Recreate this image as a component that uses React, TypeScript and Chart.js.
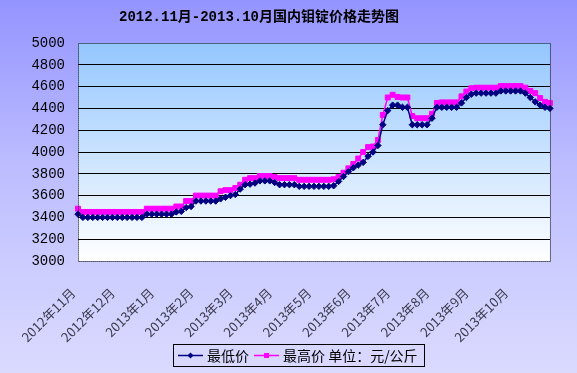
import { useEffect, useRef } from 'react';
import { Chart, registerables } from 'chart.js';

Chart.register(...registerables);

const titleText = '2012.11月-2013.10月国内钼锭价格走势图';
const months = [
  '2012年11月', '2012年12月', '2013年1月', '2013年2月', '2013年3月', '2013年4月',
  '2013年5月', '2013年6月', '2013年7月', '2013年8月', '2013年9月', '2013年10月',
];
const samplesPerMonth = 8;
const yMin = 3000;
const yMax = 5000;
const yStep = 200;
const lowLabel = '最低价';
const highLabel = '最高价';
const unitNote = '单位：元/公斤';

const lowPrices = [
  3430,
  3400, 3400, 3400, 3400, 3400, 3400, 3400, 3400, 3400, 3400, 3400, 3400, 3400,
  3430, 3430, 3430, 3430, 3430, 3430,
  3450, 3455, 3490, 3500,
  3550, 3550, 3550, 3550, 3550,
  3570, 3585, 3600, 3610, 3660, 3700, 3705, 3715,
  3735, 3735, 3735, 3720,
  3700, 3700, 3700, 3700,
  3685, 3685, 3685, 3685, 3685, 3685, 3685,
  3690, 3730, 3775, 3820, 3855, 3880, 3905, 3960, 4000,
  4060, 4250, 4380, 4430, 4430, 4410, 4410,
  4250, 4250, 4250, 4250,
  4310, 4410, 4410, 4410, 4410, 4410,
  4450, 4500, 4530,
  4540, 4540, 4540, 4540, 4540,
  4560, 4560, 4560, 4560, 4560,
  4540, 4500, 4460, 4430, 4410, 4400,
];

const highPrices = [
  3480,
  3450, 3450, 3450, 3450, 3450, 3450, 3450, 3450, 3450, 3450, 3450, 3450, 3450,
  3480, 3480, 3480, 3480, 3480, 3480,
  3500, 3500, 3550, 3550,
  3600, 3600, 3600, 3600, 3600,
  3640, 3650, 3650, 3670, 3700, 3745, 3760, 3760,
  3780, 3780, 3780, 3770,
  3760, 3760, 3760, 3760,
  3745, 3745, 3745, 3745, 3745, 3745, 3745,
  3750, 3770, 3810, 3850, 3890, 3940, 4000, 4045, 4050,
  4110, 4340, 4500, 4525, 4505, 4500, 4500,
  4330, 4310, 4310, 4310,
  4350, 4450, 4455, 4455, 4455, 4455,
  4510, 4555, 4585,
  4590, 4590, 4590, 4590, 4590,
  4605, 4605, 4605, 4605, 4605,
  4590, 4560, 4540, 4495, 4460, 4450,
];

const lowColor = '#000080';
const highColor = '#FF00FF';

const W = 577;
const H = 373;
const PLOT_LEFT = 78;
const PLOT_RIGHT = 553;
const PLOT_TOP = 43;
const PLOT_BOTTOM = 261;

function marker(ctx: CanvasRenderingContext2D, style: string, x: number, y: number, r: number) {
  ctx.beginPath();
  if (style === 'rect') {
    ctx.rect(x - r, y - r, 2 * r, 2 * r);
  } else {
    ctx.moveTo(x, y - r);
    ctx.lineTo(x + r, y);
    ctx.lineTo(x, y + r);
    ctx.lineTo(x - r, y);
    ctx.closePath();
  }
  ctx.fill();
}

const decorPlugin = {
  id: 'decor',
  beforeDraw(chart: any) {
    const { ctx, chartArea } = chart;
    ctx.save();
    const bg = ctx.createLinearGradient(0, 0, 0, H);
    bg.addColorStop(0, '#9494FF');
    bg.addColorStop(0.45, '#BDBDFF');
    bg.addColorStop(0.75, '#CECEFF');
    bg.addColorStop(1, '#DADAFF');
    ctx.fillStyle = bg;
    ctx.fillRect(0, 0, W, H);
    const pg = ctx.createLinearGradient(0, chartArea.top, 0, chartArea.bottom);
    pg.addColorStop(0, '#94C6FF');
    pg.addColorStop(1, '#FFFFFF');
    ctx.fillStyle = pg;
    ctx.fillRect(chartArea.left, chartArea.top, chartArea.right - chartArea.left, chartArea.bottom - chartArea.top);
    ctx.restore();
  },
  afterDatasetsDraw(chart: any) {
    const { ctx, chartArea } = chart;
    ctx.save();
    ctx.strokeStyle = '#000';
    ctx.lineWidth = 1;
    ctx.setLineDash([1, 1]);
    ctx.strokeRect(chartArea.left + 0.5, chartArea.top + 0.5, chartArea.right - chartArea.left, chartArea.bottom - chartArea.top);
    ctx.setLineDash([]);
    ctx.restore();
  },
  afterDraw(chart: any) {
    const { ctx } = chart;
    ctx.save();
    ctx.fillStyle = '#000';
    ctx.font = 'bold 14px "Liberation Mono", "Noto Sans CJK SC"';
    ctx.textAlign = 'center';
    ctx.textBaseline = 'middle';
    ctx.fillText(titleText, 259, 17);

    const boxX = 173.5, boxY = 344.5, boxW = 251, boxH = 22;
    ctx.strokeStyle = '#000';
    ctx.lineWidth = 1;
    ctx.strokeRect(boxX, boxY, boxW, boxH);
    const cy = boxY + boxH / 2;
    ctx.font = '14px "Noto Sans CJK SC"';
    ctx.textAlign = 'left';
    ctx.textBaseline = 'middle';
    const items = [
      { label: chart.data.datasets[0].label, color: lowColor, style: 'rectRot', x0: 178, r: 3 },
      { label: chart.data.datasets[1].label + ' ' + unitNote, color: highColor, style: 'rect', x0: 254, r: 2.5 },
    ];
    for (const it of items) {
      ctx.strokeStyle = it.color;
      ctx.lineWidth = 1.5;
      ctx.beginPath();
      ctx.moveTo(it.x0, cy);
      ctx.lineTo(it.x0 + 25, cy);
      ctx.stroke();
      ctx.fillStyle = it.color;
      marker(ctx, it.style, it.x0 + 12.5, cy, it.r);
      ctx.fillStyle = '#000';
      ctx.fillText(it.label, it.x0 + 29, cy + 0.5);
    }
    ctx.restore();
  },
};

export default function App() {
  const ref = useRef<HTMLCanvasElement | null>(null);

  useEffect(() => {
    if (!ref.current) return;
    const total = months.length * samplesPerMonth;
    const labels = lowPrices.map((_, i) => months[Math.floor(i / samplesPerMonth)] ?? '2013年11月');
    const chart = new Chart(ref.current, {
      type: 'line',
      data: {
        labels,
        datasets: [
          {
            label: lowLabel,
            data: lowPrices,
            borderColor: lowColor,
            backgroundColor: lowColor,
            borderWidth: 1.5,
            pointStyle: 'rectRot',
            pointRadius: 3.2,
            pointBorderWidth: 1,
            tension: 0,
          },
          {
            label: highLabel,
            data: highPrices,
            borderColor: highColor,
            backgroundColor: highColor,
            borderWidth: 1.5,
            pointStyle: 'rect',
            pointRadius: 3.5,
            pointBorderWidth: 1,
            tension: 0,
          },
        ],
      },
      options: {
        responsive: false,
        animation: false,
        layout: { padding: { left: 0, top: PLOT_TOP, right: W - PLOT_RIGHT, bottom: 0 } },
        plugins: {
          legend: { display: false },
          title: { display: false },
          tooltip: { enabled: false },
        },
        scales: {
          x: {
            type: 'category',
            offset: false,
            grid: { display: false },
            border: { display: false },
            afterFit(scale: any) {
              scale.height = H - PLOT_BOTTOM;
            },
            ticks: {
              autoSkip: false,
              minRotation: 45,
              maxRotation: 45,
              padding: 16,
              labelOffset: -5,
              color: '#3a3a4a',
              font: { family: '"Noto Sans CJK SC"', size: 13 },
              callback: (_v: any, i: number) =>
                i % samplesPerMonth === 0 && i < total ? months[i / samplesPerMonth] : '',
            },
          },
          y: {
            min: yMin,
            max: yMax,
            border: { display: false },
            afterFit(scale: any) {
              scale.width = PLOT_LEFT;
            },
            grid: {
              drawTicks: false,
              lineWidth: 1,
              color: (c: any) =>
                c.tick && (c.tick.value === yMin || c.tick.value === yMax) ? 'rgba(0,0,0,0)' : '#000',
            },
            ticks: {
              stepSize: yStep,
              padding: 13,
              color: '#000',
              font: { family: '"Liberation Mono"', size: 14 },
              callback: (v: any) => String(v),
            },
          },
        },
      },
      plugins: [decorPlugin],
    });
    return () => chart.destroy();
  }, []);

  return (
    <div style={{ position: 'absolute', left: 0, top: 0, width: W, height: H }}>
      <canvas ref={ref} width={W} height={H} style={{ width: W, height: H }} />
    </div>
  );
}
